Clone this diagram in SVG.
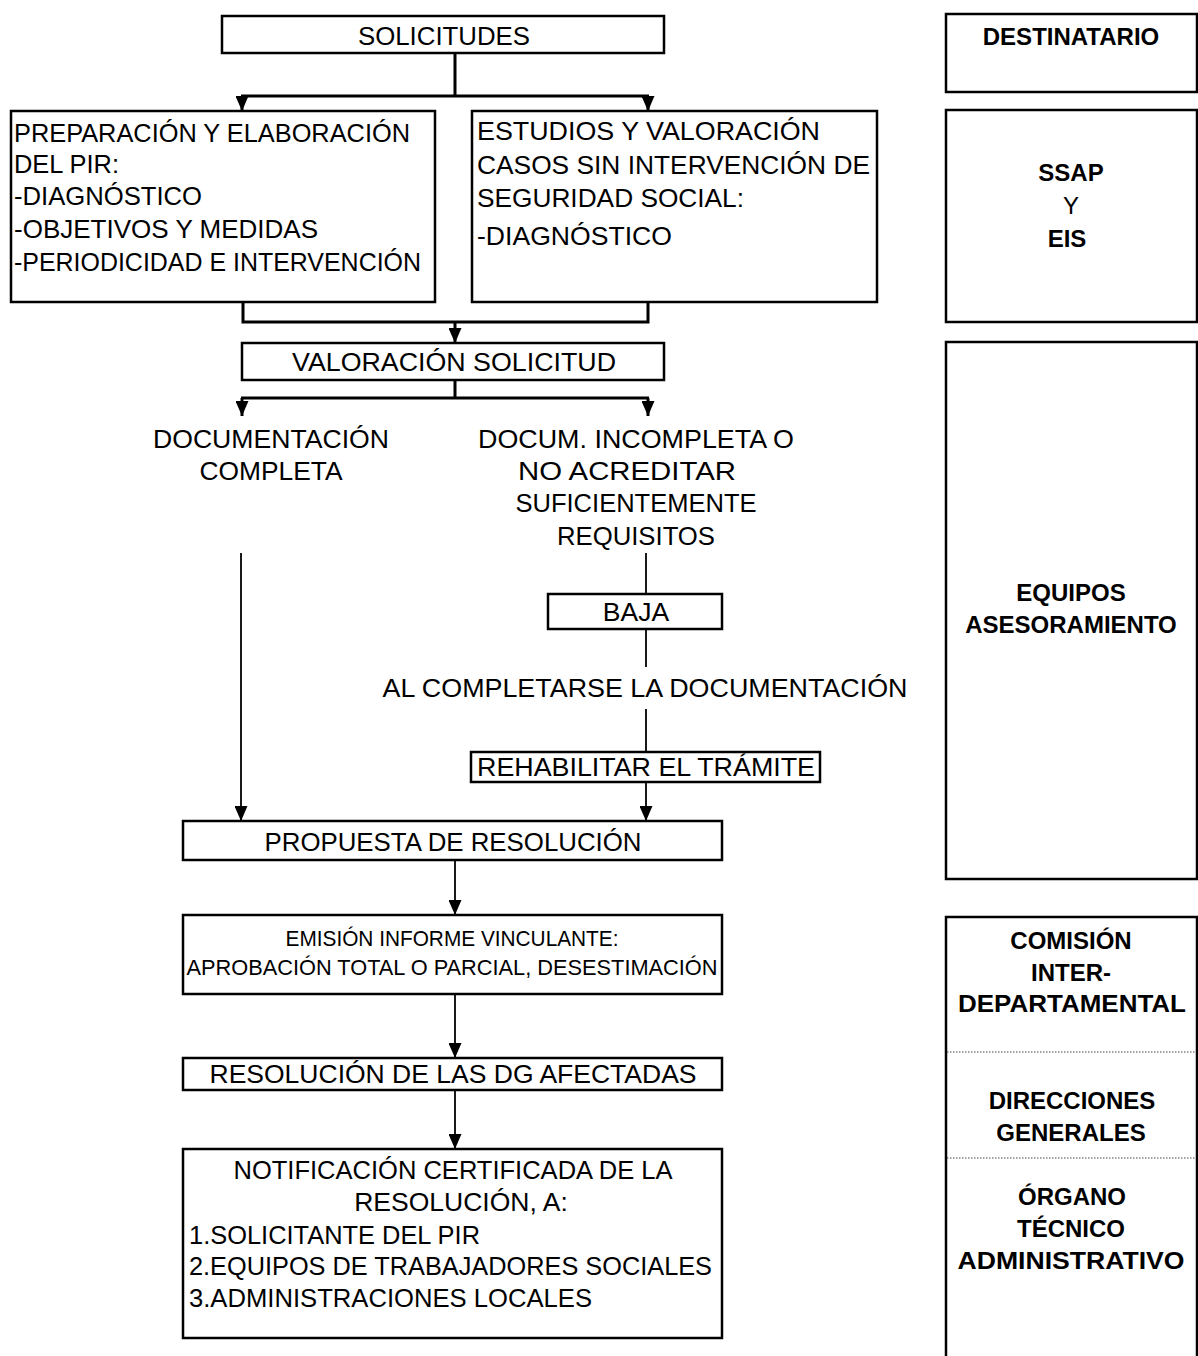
<svg xmlns="http://www.w3.org/2000/svg" width="1198" height="1356" viewBox="0 0 1198 1356">
<defs>
<style>
.box{fill:#fff;stroke:#000;stroke-width:2.5}
.t{font-family:"Liberation Sans",Arial,sans-serif;font-size:26.5px;fill:#000}
.c{text-anchor:middle}
.s{font-size:22px}
.b{font-family:"Liberation Sans",Arial,sans-serif;font-size:24px;font-weight:bold;fill:#000;text-anchor:middle}
.r{font-family:"Liberation Sans",Arial,sans-serif;font-size:24px;fill:#000;text-anchor:middle}
.thick{fill:none;stroke:#000;stroke-width:3}
.thin{fill:none;stroke:#000;stroke-width:1.8}
.dot{stroke:#444;stroke-width:1;stroke-dasharray:1.5 1.5}
</style>
<marker id="ah" markerUnits="userSpaceOnUse" markerWidth="15" markerHeight="13" refX="15" refY="6.5" orient="auto">
<path d="M0,0 L15,6.5 L0,13 z" fill="#000"/>
</marker>
</defs>
<rect width="1198" height="1356" fill="#fff"/>

<g id="connectors">
<path class="thick" d="M455,53 V96 M241,96 H649"/>
<path class="thick" d="M242,96 V111" marker-end="url(#ah)"/>
<path class="thick" d="M648,96 V111" marker-end="url(#ah)"/>
<path class="thick" d="M243,302 V322 H648 V302"/>
<path class="thick" d="M455,322 V343" marker-end="url(#ah)"/>
<path class="thick" d="M455,380 V398 M241,398 H649"/>
<path class="thick" d="M242,398 V416" marker-end="url(#ah)"/>
<path class="thick" d="M648,398 V416" marker-end="url(#ah)"/>
<path class="thin" d="M241,553 V821" marker-end="url(#ah)"/>
<path class="thin" d="M646,553 V594"/>
<path class="thin" d="M646,629 V667"/>
<path class="thin" d="M646,709 V752"/>
<path class="thin" d="M646,782 V821" marker-end="url(#ah)"/>
<path class="thin" d="M455,860 V915" marker-end="url(#ah)"/>
<path class="thin" d="M455,994 V1058" marker-end="url(#ah)"/>
<path class="thin" d="M455,1090 V1149" marker-end="url(#ah)"/>
</g>

<g id="solicitudes">
<rect class="box" x="222" y="16" width="442" height="37"/>
<text class="t c" x="444" y="45" textLength="172" lengthAdjust="spacingAndGlyphs">SOLICITUDES</text>
</g>

<g id="preparacion">
<rect class="box" x="11" y="111" width="424" height="191"/>
<text class="t" x="14" y="142" textLength="396" lengthAdjust="spacingAndGlyphs">PREPARACIÓN Y ELABORACIÓN</text>
<text class="t" x="14" y="173" textLength="105" lengthAdjust="spacingAndGlyphs">DEL PIR:</text>
<text class="t" x="14" y="205" textLength="188" lengthAdjust="spacingAndGlyphs">-DIAGNÓSTICO</text>
<text class="t" x="14" y="238" textLength="304" lengthAdjust="spacingAndGlyphs">-OBJETIVOS Y MEDIDAS</text>
<text class="t" x="14" y="271" textLength="407" lengthAdjust="spacingAndGlyphs">-PERIODICIDAD E INTERVENCIÓN</text>
</g>

<g id="estudios">
<rect class="box" x="472" y="111" width="405" height="191"/>
<text class="t" x="477" y="140" textLength="343" lengthAdjust="spacingAndGlyphs">ESTUDIOS Y VALORACIÓN</text>
<text class="t" x="477" y="174" textLength="393" lengthAdjust="spacingAndGlyphs">CASOS SIN INTERVENCIÓN DE</text>
<text class="t" x="477" y="207" textLength="267" lengthAdjust="spacingAndGlyphs">SEGURIDAD SOCIAL:</text>
<text class="t" x="477" y="245" textLength="195" lengthAdjust="spacingAndGlyphs">-DIAGNÓSTICO</text>
</g>

<g id="valoracion">
<rect class="box" x="242" y="343" width="422" height="37"/>
<text class="t c" x="454" y="371" textLength="324" lengthAdjust="spacingAndGlyphs">VALORACIÓN SOLICITUD</text>
</g>

<g id="doc-completa">
<text class="t c" x="271" y="448" textLength="236" lengthAdjust="spacingAndGlyphs">DOCUMENTACIÓN</text>
<text class="t c" x="271" y="480" textLength="143" lengthAdjust="spacingAndGlyphs">COMPLETA</text>
</g>

<g id="doc-incompleta">
<text class="t c" x="636" y="448" textLength="316" lengthAdjust="spacingAndGlyphs">DOCUM. INCOMPLETA O</text>
<text class="t c" x="627" y="480" textLength="218" lengthAdjust="spacingAndGlyphs">NO ACREDITAR</text>
<text class="t c" x="636" y="512" textLength="241" lengthAdjust="spacingAndGlyphs">SUFICIENTEMENTE</text>
<text class="t c" x="636" y="545" textLength="158" lengthAdjust="spacingAndGlyphs">REQUISITOS</text>
</g>

<g id="baja">
<rect class="box" x="548" y="594" width="174" height="35"/>
<text class="t c" x="636" y="621">BAJA</text>
</g>

<g id="al-completarse">
<text class="t c" x="645" y="697" textLength="525" lengthAdjust="spacingAndGlyphs">AL COMPLETARSE LA DOCUMENTACIÓN</text>
</g>

<g id="rehabilitar">
<rect class="box" x="471" y="752" width="349" height="30"/>
<text class="t c" x="646" y="776" textLength="338" lengthAdjust="spacingAndGlyphs">REHABILITAR EL TRÁMITE</text>
</g>

<g id="propuesta">
<rect class="box" x="183" y="821" width="539" height="39"/>
<text class="t c" x="453" y="851" textLength="377" lengthAdjust="spacingAndGlyphs">PROPUESTA DE RESOLUCIÓN</text>
</g>

<g id="emision">
<rect class="box" x="183" y="915" width="539" height="79"/>
<text class="t c s" x="452" y="946" textLength="333" lengthAdjust="spacingAndGlyphs">EMISIÓN INFORME VINCULANTE:</text>
<text class="t c s" x="452" y="975" textLength="531" lengthAdjust="spacingAndGlyphs">APROBACIÓN TOTAL O PARCIAL, DESESTIMACIÓN</text>
</g>

<g id="resolucion-dg">
<rect class="box" x="183" y="1058" width="539" height="32"/>
<text class="t c" x="453" y="1083" textLength="487" lengthAdjust="spacingAndGlyphs">RESOLUCIÓN DE LAS DG AFECTADAS</text>
</g>

<g id="notificacion">
<rect class="box" x="183" y="1149" width="539" height="189"/>
<text class="t c" x="453" y="1179" textLength="439" lengthAdjust="spacingAndGlyphs">NOTIFICACIÓN CERTIFICADA DE LA</text>
<text class="t c" x="461" y="1211">RESOLUCIÓN, A:</text>
<text class="t" x="189" y="1244" textLength="291" lengthAdjust="spacingAndGlyphs">1.SOLICITANTE DEL PIR</text>
<text class="t" x="189" y="1275" textLength="523" lengthAdjust="spacingAndGlyphs">2.EQUIPOS DE TRABAJADORES SOCIALES</text>
<text class="t" x="189" y="1307" textLength="403" lengthAdjust="spacingAndGlyphs">3.ADMINISTRACIONES LOCALES</text>
</g>

<g id="destinatario">
<rect class="box" x="946" y="14" width="251" height="78"/>
<text class="b" x="1071" y="45">DESTINATARIO</text>
</g>

<g id="ssap-eis">
<rect class="box" x="946" y="110" width="251" height="212"/>
<text class="b" x="1071" y="181">SSAP</text>
<text class="r" x="1071" y="214">Y</text>
<text class="b" x="1067" y="247">EIS</text>
</g>

<g id="equipos-asesoramiento">
<rect class="box" x="946" y="342" width="251" height="537"/>
<text class="b" x="1071" y="601">EQUIPOS</text>
<text class="b" x="1071" y="633">ASESORAMIENTO</text>
</g>

<g id="organos">
<path class="box" d="M946,1370 V917 H1197 V1370"/>
<line class="dot" x1="947" y1="1052" x2="1196" y2="1052"/>
<line class="dot" x1="947" y1="1158" x2="1196" y2="1158"/>
<text class="b" x="1071" y="949">COMISIÓN</text>
<text class="b" x="1071" y="981">INTER-</text>
<text class="b" x="1072" y="1012" textLength="228" lengthAdjust="spacingAndGlyphs">DEPARTAMENTAL</text>
<text class="b" x="1072" y="1109">DIRECCIONES</text>
<text class="b" x="1071" y="1141">GENERALES</text>
<text class="b" x="1072" y="1205">ÓRGANO</text>
<text class="b" x="1071" y="1237">TÉCNICO</text>
<text class="b" x="1071" y="1269" textLength="227" lengthAdjust="spacingAndGlyphs">ADMINISTRATIVO</text>
</g>
</svg>
